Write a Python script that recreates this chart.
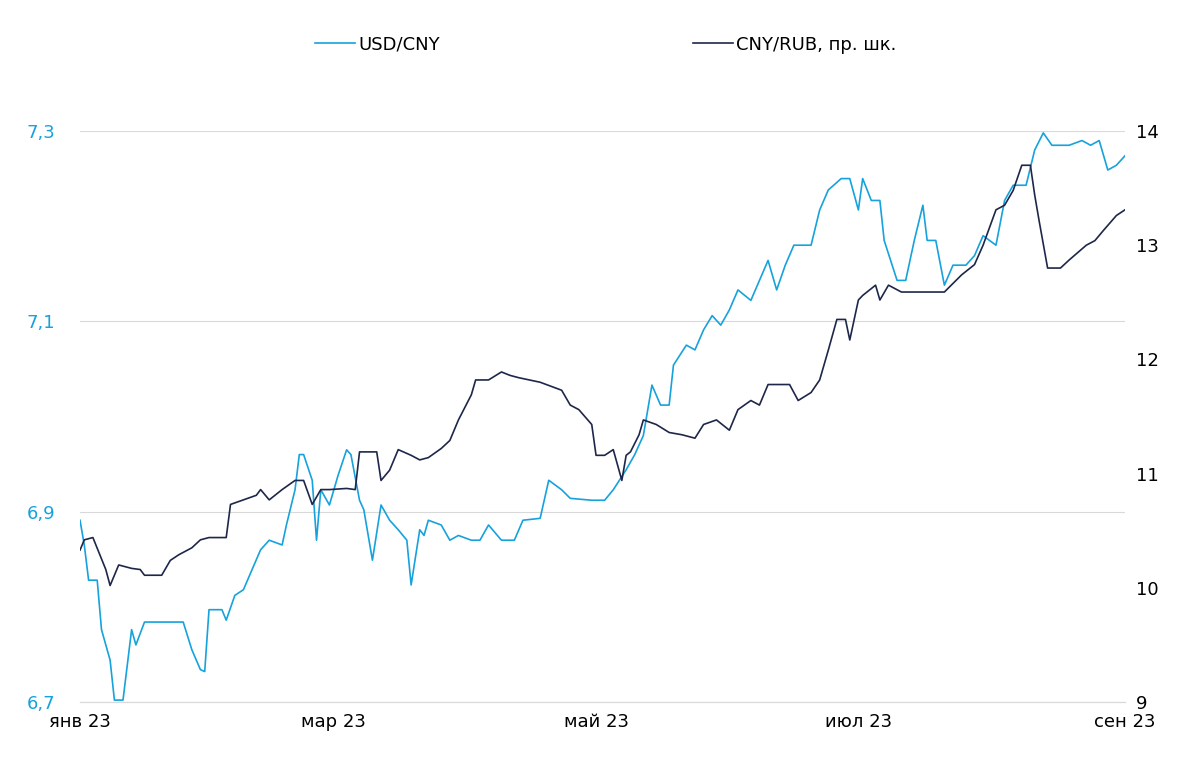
import pandas as pd, numpy as np, matplotlib
matplotlib.use("Agg")
import matplotlib.pyplot as plt, seaborn as sns
import matplotlib.dates as mdates
from matplotlib.lines import Line2D

usd_days=[0,1,2,4,5,7,8,10,12,13,15,24,26,28,29,30,33,34,36,38,42,44,47,48,50,51,52,54,55,56,58,60,62,63,65,66,68,70,72,74,76,77,79,80,81,84,86,88,91,93,95,98,101,103,107,109,112,114,119,122,124,127,129,131,133,135,137,138,141,143,145,147,149,151,153,156,158,160,162,164,166,170,172,174,177,179,181,182,184,186,187,190,192,194,196,197,199,201,203,206,208,210,213,215,217,220,222,224,226,228,230,233,235,237,239,241,243]
usd_vals=[6.891,6.865,6.828,6.828,6.776,6.744,6.702,6.702,6.776,6.760,6.784,6.784,6.755,6.734,6.732,6.797,6.797,6.786,6.812,6.818,6.860,6.870,6.865,6.886,6.923,6.960,6.960,6.933,6.870,6.923,6.907,6.938,6.965,6.960,6.912,6.902,6.849,6.907,6.891,6.881,6.870,6.823,6.881,6.875,6.891,6.886,6.870,6.875,6.870,6.870,6.886,6.870,6.870,6.891,6.893,6.933,6.923,6.914,6.912,6.912,6.923,6.944,6.960,6.980,7.033,7.012,7.012,7.054,7.075,7.070,7.091,7.106,7.096,7.112,7.133,7.122,7.143,7.164,7.133,7.159,7.180,7.180,7.217,7.238,7.250,7.250,7.217,7.250,7.227,7.227,7.185,7.143,7.143,7.185,7.222,7.185,7.185,7.138,7.159,7.159,7.169,7.190,7.180,7.227,7.243,7.243,7.280,7.298,7.285,7.285,7.285,7.290,7.285,7.290,7.259,7.264,7.274]
rub_days=[0,1,3,6,7,9,12,14,15,19,21,23,26,28,30,34,35,38,41,42,44,47,50,52,54,56,58,62,64,65,69,70,72,74,77,79,81,84,86,88,91,92,95,98,100,102,107,112,114,116,119,120,122,124,126,127,128,130,131,134,137,140,143,145,148,151,153,156,158,160,163,165,167,170,172,174,176,178,179,181,182,185,186,188,191,194,198,201,205,208,210,213,215,217,219,221,222,223,225,228,230,234,236,238,241,243]
rub_vals=[10.33,10.42,10.44,10.16,10.02,10.20,10.17,10.16,10.11,10.11,10.24,10.29,10.35,10.42,10.44,10.44,10.73,10.77,10.81,10.86,10.77,10.86,10.94,10.94,10.73,10.86,10.86,10.87,10.86,11.19,11.19,10.94,11.03,11.21,11.16,11.12,11.14,11.22,11.29,11.47,11.69,11.82,11.82,11.89,11.86,11.84,11.80,11.73,11.60,11.56,11.43,11.16,11.16,11.21,10.94,11.16,11.19,11.34,11.47,11.43,11.36,11.34,11.31,11.43,11.47,11.38,11.56,11.64,11.60,11.78,11.78,11.78,11.64,11.71,11.82,12.08,12.35,12.35,12.17,12.52,12.56,12.65,12.52,12.65,12.59,12.59,12.59,12.59,12.74,12.83,13.00,13.31,13.35,13.48,13.70,13.70,13.44,13.22,12.80,12.80,12.87,13.00,13.04,13.13,13.26,13.31]

start=pd.Timestamp("2023-01-01")
du=pd.DataFrame({"date":start+pd.to_timedelta(usd_days,unit="D"),"v":usd_vals})
dr=pd.DataFrame({"date":start+pd.to_timedelta(rub_days,unit="D"),"v":rub_vals})
cu="#16a2dc"; cr="#1e2749"

fig=plt.figure(figsize=(12,7.82),dpi=100)
ax=fig.add_axes([80/1200,80/782,1045/1200,571/782])
sns.lineplot(data=du,x="date",y="v",ax=ax,color=cu,lw=1.2)
ax2=ax.twinx()
sns.lineplot(data=dr,x="date",y="v",ax=ax2,color=cr,lw=1.2)
ax.set_ylim(6.7,7.3); ax2.set_ylim(9,14)
ax.set_xlim(start,pd.Timestamp("2023-09-01"))
ax.set_yticks([6.7,6.9,7.1,7.3]); ax.set_yticklabels(["6,7","6,9","7,1","7,3"])
ax2.set_yticks([9,10,11,12,13,14])
ticks=[pd.Timestamp(f"2023-{m:02d}-01") for m in (1,3,5,7,9)]
ax.set_xticks(ticks); ax.set_xticklabels(["янв 23","мар 23","май 23","июл 23","сен 23"])
for a in (ax,ax2):
    a.set_xlabel(""); a.set_ylabel("")
    for s in ["top","left","right"]: a.spines[s].set_visible(False)
    a.spines["bottom"].set_color("#d9d9d9")
    a.tick_params(length=0,labelsize=13)
ax.tick_params(axis="y",colors=cu,pad=18)
ax2.tick_params(axis="y",colors="#000000",pad=8)
ax.tick_params(axis="x",colors="#000000",pad=8)
ax.grid(axis="y",color="#d9d9d9",lw=0.8); ax.set_axisbelow(True)
h=[Line2D([],[],color=cu,lw=1.2),Line2D([],[],color=cr,lw=1.2)]
fig.legend(h,["USD/CNY","CNY/RUB, пр. шк."],loc="upper center",bbox_to_anchor=(0.505,0.975),ncol=2,frameon=False,fontsize=13,columnspacing=14,handlelength=2.2,handletextpad=0.2)
fig.savefig("out.png",dpi=100)
